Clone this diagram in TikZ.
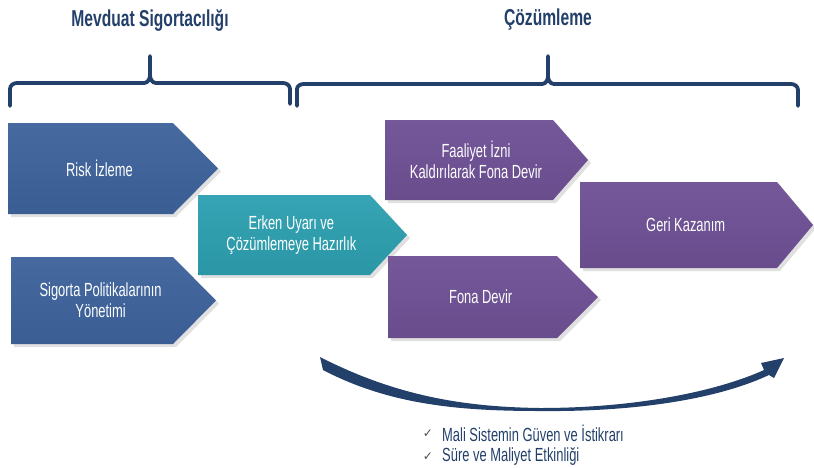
\documentclass[tikz,border=0pt]{standalone}
\usepackage{fontspec}
\setmainfont[FakeStretch=0.68]{Liberation Sans}
\newfontfamily\symfont{DejaVu Sans}
\usetikzlibrary{calc}
\definecolor{navy}{HTML}{22406A}
\definecolor{boxblue}{HTML}{3A5E94}
\definecolor{boxblueT}{HTML}{4669A0}
\definecolor{boxteal}{HTML}{2A96A6}
\definecolor{boxtealT}{HTML}{36A4B4}
\definecolor{boxpurple}{HTML}{684C8C}
\definecolor{boxpurpleT}{HTML}{74589A}
\tikzset{
  boxtext/.style={text=white, font=\fontsize{19}{21}\selectfont, align=center},
  title/.style={text=navy, font=\bfseries\fontsize{23}{25}\selectfont},
  brace/.style={draw=navy, line width=3.8pt, line cap=round, line join=round},
  bullet/.style={text=navy, font=\fontsize{19}{21}\selectfont, anchor=west, inner sep=0pt},
  tick/.style={text=black!70, font=\symfont\fontsize{12}{14}\selectfont},
}
% chevron: #1 name, #2 colour, #3 top colour, #4 left x, #5 body end x, #6 tip x, #7 top y, #8 bottom y, #9 label
\newcommand\chevbox[9]{%
  \fill[black!35, opacity=0.35]
    ($(#4,#7)+(3,3)$) -- ($(#5,#7)+(3,3)$) -- ($(#6,{(#7+#8)/2})+(3,3)$) -- ($(#5,#8)+(3,3)$) -- ($(#4,#8)+(3,3)$) -- cycle;
  \shade[top color=#3, bottom color=#2]
    (#4,#7) -- (#5,#7) -- (#6,{(#7+#8)/2}) -- (#5,#8) -- (#4,#8) -- cycle;
  \node[boxtext] (#1) at ({(#4+#5)/2+ (#6-#5)*0.2},{(#7+#8)/2}) {#9};
}
\begin{document}
\begin{tikzpicture}[x=1pt, y=-1pt]
\useasboundingbox (0,0) rectangle (814,467);

% headings
\node[title] (tleft) at (150,20) {Mevduat Sigortacılığı};
\node[title] (tright) at (548,20) {Çözümleme};

% braces
\coordinate (bl1) at (10,106);
\coordinate (bl2) at (290,104);
\coordinate (br1) at (297,106);
\coordinate (br2) at (798,106);
\draw[brace] (bl1) -- (10,89) to[out=90,in=180] (17,83) -- (144,83)
   to[out=0,in=-90] (150,75) -- (150,56)
   (150,75) to[out=-90,in=180] (156,83) -- (283,83) to[out=0,in=90] (290,89) -- (bl2);
\draw[brace] (br1) -- (297,89) to[out=90,in=180] (304,84) -- (542,84)
   to[out=0,in=-90] (548,76) -- (548,56)
   (548,76) to[out=-90,in=180] (554,84) -- (791,84) to[out=0,in=90] (798,90) -- (br2);

% process chevrons
\chevbox{risk}{boxblue}{boxblueT}{8}{173}{218}{123}{214}{Risk İzleme}
\chevbox{sigorta}{boxblue}{boxblueT}{11}{173}{216}{257}{344}{Sigorta Politikalarının\\Yönetimi}
\chevbox{erken}{boxteal}{boxtealT}{198}{370}{407}{195}{275}{Erken Uyarı ve\\Çözümlemeye Hazırlık}
\chevbox{faaliyet}{boxpurple}{boxpurpleT}{385}{553}{588}{120}{200}{Faaliyet İzni\\Kaldırılarak Fona Devir}
\chevbox{fona}{boxpurple}{boxpurpleT}{388}{557}{598}{256}{338}{Fona Devir}
\chevbox{geri}{boxpurple}{boxpurpleT}{580}{777}{813}{182}{268}{Geri Kazanım}

% sweeping arrow under the resolution steps
\fill[navy]
  (320,357) .. controls (400,398) and (470,407) .. (540,408)
  .. controls (640,408) and (720,390) .. (764,370)
  -- (761,363) -- (784,358) -- (774,378) -- (769,375)
  .. controls (720,398) and (640,412) .. (540,411)
  .. controls (460,411) and (390,405) .. (323,370) -- cycle;

% outcomes
\node[tick] (t1) at (428,434) {✓};
\node[tick] (t2) at (428,457) {✓};
\node[bullet] (b1) at (442,433) {Mali Sistemin Güven ve İstikrarı};
\node[bullet] (b2) at (442,456) {Süre ve Maliyet Etkinliği};
\end{tikzpicture}
\end{document}
